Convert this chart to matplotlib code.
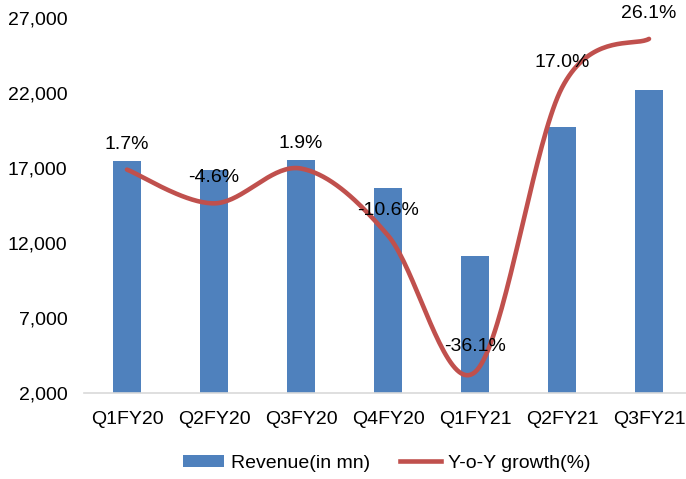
import numpy as np
import matplotlib
matplotlib.use("Agg")
import matplotlib.pyplot as plt
from matplotlib.patches import Patch
from matplotlib.lines import Line2D

plt.rcParams['font.family'] = ['Liberation Sans', 'DejaVu Sans']

quarters = ["Q1FY20", "Q2FY20", "Q3FY20", "Q4FY20", "Q1FY21", "Q2FY21", "Q3FY21"]
revenue = [17450, 16850, 17550, 15650, 11150, 19750, 22200]
growth = [1.7, -4.6, 1.9, -10.6, -36.1, 17.0, 26.1]
growth_labels = ["1.7%", "-4.6%", "1.9%", "-10.6%", "-36.1%", "17.0%", "26.1%"]
yticks = [2000, 7000, 12000, 17000, 22000, 27000]

BAR = "#4F81BD"
LINE = "#C0504D"


def catmull_rom(xs, ys, n=40):
    """Smooth curve through the points using cubic Bezier segments."""
    xs = np.asarray(xs, float)
    ys = np.asarray(ys, float)
    px = np.concatenate([[xs[0]], xs, [xs[-1]]])
    py = np.concatenate([[ys[0]], ys, [ys[-1]]])
    out_x, out_y = [], []
    t = np.linspace(0, 1, n)
    for i in range(1, len(px) - 2):
        p0 = np.array([px[i], py[i]])
        p3 = np.array([px[i + 1], py[i + 1]])
        c1 = p0 + (np.array([px[i + 1], py[i + 1]]) - np.array([px[i - 1], py[i - 1]])) / 6
        c2 = p3 - (np.array([px[i + 2], py[i + 2]]) - np.array([px[i], py[i]])) / 6
        b = ((1 - t) ** 3)[:, None] * p0 + (3 * (1 - t) ** 2 * t)[:, None] * c1 \
            + (3 * (1 - t) * t ** 2)[:, None] * c2 + (t ** 3)[:, None] * p3
        out_x.extend(b[:, 0])
        out_y.extend(b[:, 1])
    return np.array(out_x), np.array(out_y)


fig = plt.figure(figsize=(6.86, 4.79), dpi=100)
W, H = 686, 479
left_px, right_px, top_px, bot_px = 83.5, 686, 18, 393
ax = fig.add_axes([left_px / W, 1 - bot_px / H, (right_px - left_px) / W, (bot_px - top_px) / H])

x = np.arange(len(quarters))
ax.bar(x, revenue, width=0.32, color=BAR, zorder=2)
ax.set_ylim(2000, 27000)
ax.set_xlim(-0.5, 6.5 - 6.5 / 87)
ax.set_yticks(yticks)
ax.set_yticklabels([f"{v:,}" for v in yticks])
ax.set_xticks(x)
ax.set_xticklabels(quarters)
ax.tick_params(axis='both', length=0, labelsize=14, colors="#000000")
ax.tick_params(axis='y', pad=11.5)
ax.tick_params(axis='x', pad=13)
for s in ["top", "right", "left"]:
    ax.spines[s].set_visible(False)
ax.spines["bottom"].set_color("#D9D9D9")
ax.spines["bottom"].set_linewidth(1.2)

ax2 = ax.twinx()
ax2.set_ylim(-40, 30)
ax2.axis("off")
sx, sy = catmull_rom(x, growth)
ax2.plot(sx, sy, color=LINE, lw=3.3, solid_capstyle="round", zorder=3)
for xi, g, lab in zip(x, growth, growth_labels):
    ax2.annotate(lab, (xi, g), xytext=(0, 18.3), textcoords="offset points",
                 ha="center", va="center", fontsize=14, color="#000000", zorder=4)

handles = [Patch(facecolor=BAR, edgecolor="none"),
           Line2D([0], [0], color=LINE, lw=3.3)]
fig.legend(handles, ["Revenue(in mn)", "Y-o-Y growth(%)"], loc="center",
           bbox_to_anchor=(387 / W, 1 - 463 / H), ncol=2, frameon=False,
           fontsize=14, handlelength=2.1, handleheight=0.57,
           handletextpad=0.36, columnspacing=1.55)

fig.savefig("out.png", dpi=100)
